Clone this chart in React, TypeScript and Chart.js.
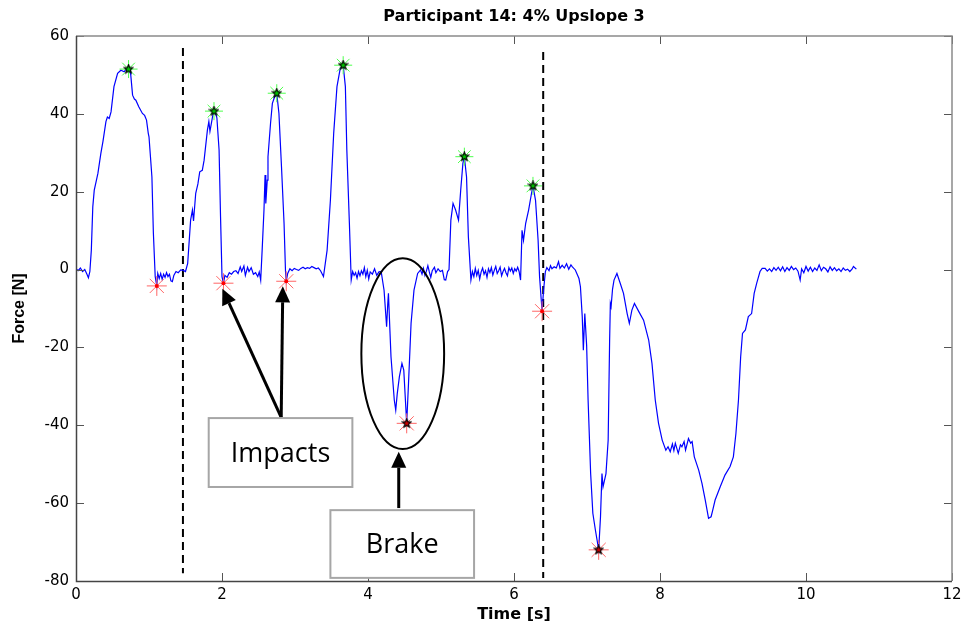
import React, { useEffect, useRef } from "react";
import { Chart, registerables } from "chart.js";

Chart.register(...registerables);

const chartTitle = "Participant 14: 4% Upslope 3";
const xAxisTitle = "Time [s]";
const yAxisTitle = "Force [N]";
const xTickValues = [0, 2, 4, 6, 8, 10, 12];
const yTickValues = [-80, -60, -40, -20, 0, 20, 40, 60];

// [time s, force N]
const traceFirstSteps: number[][] = [
  [0, 0.2], [0.03, -0.3], [0.06, 0.4], [0.09, -0.5], [0.12, 0], [0.15, -1.2], [0.17, -2.1], [0.19, -0.5],
  [0.21, 5], [0.23, 16.1], [0.25, 20.4], [0.28, 23], [0.3, 24.7], [0.34, 29.8], [0.37, 33], [0.41, 38],
  [0.43, 39.2], [0.455, 38.8], [0.48, 40.5], [0.52, 47], [0.57, 50.4], [0.615, 51.2], [0.66, 50.8],
  [0.69, 51.6], [0.72, 51.5], [0.74, 50.8], [0.75, 50], [0.775, 44.8], [0.8, 43.8], [0.82, 43.5],
  [0.86, 41.8], [0.91, 40.1], [0.94, 39.6], [0.966, 38.4], [0.99, 35], [1.0, 34.1], [1.02, 29],
  [1.04, 23.8], [1.06, 9.4], [1.085, -1.8], [1.107, -4.2], [1.12, -1], [1.14, -2.3], [1.16, -1],
  [1.18, -2.5], [1.2, -1.2], [1.22, -2], [1.24, -0.8], [1.26, -1.8], [1.28, -1.2], [1.3, -2.9],
  [1.32, -3.1], [1.34, -1.5], [1.37, -0.5], [1.4, -0.8], [1.435, -0.1], [1.47, -0.2], [1.5, -0.5],
];

const traceMiddleSteps: number[][] = [
  [1.53, 1.6], [1.57, 12.7], [1.595, 15.3], [1.61, 12.5], [1.64, 19.6], [1.67, 22], [1.695, 25.1],
  [1.73, 25.5], [1.755, 28.1], [1.8, 35.8], [1.82, 38], [1.835, 35.5], [1.87, 39.2], [1.89, 40.7],
  [1.91, 40.2], [1.93, 39], [1.96, 30.7], [1.98, 13.6], [2.0, -1.8], [2.02, -3.5], [2.04, -1.5],
  [2.07, -2], [2.1, -0.8], [2.13, -1.2], [2.16, -0.5], [2.19, -0.3], [2.22, -1], [2.25, 0.7],
  [2.27, -0.5], [2.3, 0.9], [2.32, -1.5], [2.35, 0.6], [2.37, -0.5], [2.4, 0.5], [2.43, -1.2],
  [2.46, -0.8], [2.49, -1.8], [2.51, -0.6], [2.53, -2.7], [2.55, 5], [2.575, 15.3], [2.59, 24.3],
  [2.6, 17], [2.62, 23], [2.63, 29], [2.665, 37.6], [2.69, 42.7], [2.72, 44.3], [2.75, 45.3],
  [2.78, 40.1], [2.815, 26.4], [2.85, 11.9], [2.87, -0.5], [2.88, -3], [2.9, -1], [2.93, 0.2],
  [2.96, -0.3], [2.99, 0.3], [3.02, 0], [3.05, -0.2], [3.08, 0.3], [3.11, 0.6], [3.14, 0.2],
  [3.17, 0.5], [3.2, 0.3], [3.23, 0.8], [3.26, 0.5], [3.29, 0.2], [3.32, 0.4], [3.35, -0.3],
  [3.39, -1.8], [3.44, 5], [3.485, 17.8], [3.53, 35], [3.575, 47], [3.62, 51.7], [3.66, 52.5],
  [3.69, 47], [3.71, 30.7], [3.745, 11.9], [3.77, -2.7],
];

const traceBrakeSteps: number[][] = [
  [3.79, -0.5], [3.81, -1.5], [3.83, -0.8], [3.85, -2.2], [3.87, -0.5], [3.89, -1.6], [3.91, -0.3],
  [3.93, -1.2], [3.95, 0.5], [3.97, -1.8], [3.99, -0.2], [4.01, -2.4], [4.03, -0.6], [4.06, -1.2],
  [4.09, 0.2], [4.12, -1.5], [4.15, -0.6], [4.18, -0.5], [4.22, -5.3], [4.255, -14.7], [4.27, -9],
  [4.28, -6.1], [4.3, -15.5], [4.315, -22.4], [4.36, -33.5], [4.38, -36.1], [4.4, -32], [4.43, -27.5],
  [4.465, -24.1], [4.49, -25.8], [4.52, -36.1], [4.53, -39.5], [4.555, -29.2], [4.59, -13.8],
  [4.63, -5.3], [4.68, -1], [4.72, -0.1], [4.74, -1.2], [4.76, 0.3], [4.78, -1.5], [4.8, -0.4],
  [4.82, 1], [4.84, -0.6], [4.86, -2], [4.88, -0.3], [4.91, 0.6], [4.93, -0.8], [4.96, 0.2],
  [4.99, -0.5], [5.02, -0.2], [5.045, -2.6], [5.065, -2.7], [5.09, -0.5], [5.11, 0], [5.135, 12.7],
  [5.165, 17], [5.2, 15.3], [5.24, 12.7], [5.27, 20.4], [5.3, 27.3], [5.32, 29], [5.35, 23.8],
  [5.375, 8.4], [5.41, -2.7], [5.43, -0.5], [5.45, -1.8], [5.47, 0.3], [5.49, -1.5], [5.51, -0.2],
  [5.53, -2.4], [5.55, -0.6], [5.57, 0.4], [5.59, -1.2], [5.61, -0.3], [5.63, -2], [5.65, 0.2],
  [5.67, -0.8], [5.69, 0.5], [5.71, -1.4], [5.73, -0.2], [5.75, 0.8], [5.77, -1], [5.79, -0.3],
  [5.81, 0.6], [5.83, -1.6], [5.85, -0.5], [5.87, 0.3], [5.89, -0.8], [5.91, -1.6], [5.93, 0.5],
  [5.95, -0.4], [5.97, 0.4], [5.99, -1], [6.01, 0.2], [6.03, -0.4], [6.05, 0.6], [6.07, -0.5],
  [6.09, -2.7], [6.11, 10.1], [6.13, 7.5], [6.16, 11.9], [6.2, 15.3], [6.24, 19.6], [6.26, 21.5],
  [6.295, 17.8], [6.33, 7.6], [6.35, -1.8], [6.37, -7], [6.385, -10.7], [6.405, -5.3], [6.43, -0.5],
  [6.45, 0.5], [6.48, -0.3], [6.5, 1], [6.52, 0.2], [6.55, 0.7], [6.58, 0.4], [6.61, 2], [6.63, 0.3],
  [6.66, 1.1], [6.69, 0.4], [6.72, 1.5], [6.75, 0.1], [6.78, 1.2], [6.8, 0.7], [6.84, -0.1], [6.89, -2.3],
];

const traceDescent: number[][] = [
  [6.91, -4.4], [6.935, -12.1], [6.95, -20.7], [6.97, -11.3], [6.995, -19.5], [7.015, -33.5],
  [7.05, -52.4], [7.08, -62.6], [7.115, -66.9], [7.16, -72], [7.185, -63.5], [7.205, -52.4],
  [7.22, -55.8], [7.26, -52.4], [7.29, -43.8], [7.31, -18.1], [7.32, -8.7], [7.33, -9.5], [7.35, -5],
  [7.37, -2.7], [7.41, -1], [7.455, -3.5], [7.5, -6.1], [7.55, -11.3], [7.58, -13.8], [7.615, -10.4],
  [7.65, -8.7], [7.71, -10.8], [7.775, -13], [7.845, -18.1], [7.89, -24.1], [7.935, -33.5],
  [7.98, -39.5], [8.03, -43.8], [8.08, -46.4], [8.11, -45.5], [8.14, -46.8], [8.17, -44.8],
  [8.19, -46.5], [8.21, -44.6], [8.25, -47.2], [8.28, -45], [8.3, -45.5], [8.33, -44.2],
  [8.35, -46.4], [8.39, -43.4], [8.42, -44.6], [8.44, -44.2], [8.47, -48.1], [8.53, -51.5],
  [8.575, -54.9], [8.62, -59.2], [8.665, -63.9], [8.7, -63.5], [8.72, -62], [8.755, -59.2],
  [8.825, -55.8], [8.89, -52.8], [8.96, -50.6], [9.005, -48.1], [9.04, -42.1], [9.075, -33.5],
  [9.105, -22.4], [9.13, -16.4], [9.17, -15.5], [9.21, -12.1], [9.255, -11.3], [9.29, -6.1],
  [9.325, -3.5], [9.37, -0.5], [9.4, 0.3], [9.44, 0.3], [9.47, -0.4], [9.5, 0.2], [9.53, -0.5],
  [9.56, 0.5], [9.59, -0.2], [9.62, 0.6], [9.65, -0.3], [9.68, 0.7], [9.71, -0.5], [9.74, 0.5],
  [9.77, -0.2], [9.8, 0.8], [9.83, 0], [9.86, 0.4], [9.89, -0.4], [9.92, -2.7], [9.94, 0.2],
  [9.97, -0.8], [10.0, 0.8], [10.03, -0.4], [10.06, 0.6], [10.09, -0.5], [10.12, 0.4], [10.15, -0.2],
  [10.18, 1.2], [10.21, -0.3], [10.24, 0.6], [10.27, 0.2], [10.3, -0.6], [10.33, 0.7], [10.36, -0.2],
  [10.39, 0.5], [10.42, -0.3], [10.45, 0.2], [10.48, -0.5], [10.51, 0.4], [10.54, -0.2], [10.57, 0.1],
  [10.6, -0.5], [10.63, 0.1], [10.65, 0.8], [10.69, 0.1],
];

const peakMarkers: number[][] = [
  [0.72, 51.5], [1.89, 40.7], [2.75, 45.3], [3.66, 52.5], [5.32, 29], [6.26, 21.5],
];
const impactMarkers: number[][] = [[1.107, -4.2], [2.02, -3.5], [2.88, -3], [6.385, -10.7]];
const brakeMarkers: number[][] = [[4.53, -39.5], [7.16, -72]];

// vertical phase boundaries: [time, top force, bottom force]
const boundaryLines: number[][] = [
  [1.465, 56.9, -78],
  [6.4, 55.9, -79.2],
];

// annotation boxes: [tLeft, tRight, fTop, fBottom]
const annotationLabels = ["Impacts", "Brake"];
const annotationBoxes: number[][] = [
  [1.818, 3.786, -38.15, -55.85],
  [3.485, 5.453, -61.8, -79.2],
];
// arrows: [tailT, tailF, tipT, tipF]
const annotationArrows: number[][] = [
  [2.811, -37.97, 2.005, -4.9],
  [2.811, -37.97, 2.833, -4.3],
  [4.421, -61.26, 4.421, -46.8],
];
// ellipse: [centerT, centerF, radiusT, radiusF]
const brakeEllipse = [4.476, -21.6, 0.567, 24.5];

const toPts = (arr: number[][]) => arr.map(([x, y]) => ({ x, y }));

function makeStarImage(fill: string, size: number) {
  const c = document.createElement("canvas");
  c.width = size;
  c.height = size;
  const g = c.getContext("2d")!;
  const cx = size / 2;
  const cy = size / 2;
  const R = size / 2 - 1;
  const r = R * 0.45;
  g.beginPath();
  for (let i = 0; i < 10; i++) {
    const ang = -Math.PI / 2 + (i * Math.PI) / 5;
    const rad = i % 2 === 0 ? R : r;
    const px = cx + rad * Math.cos(ang);
    const py = cy + rad * Math.sin(ang);
    if (i === 0) g.moveTo(px, py);
    else g.lineTo(px, py);
  }
  g.closePath();
  g.fillStyle = fill;
  g.fill();
  g.strokeStyle = "#000";
  g.lineWidth = 1.2;
  g.stroke();
  return c;
}

const matlabAxesPlugin = {
  id: "matlabAxes",
  afterDatasetsDraw(chart: any) {
    const { ctx, chartArea: a, scales } = chart;
    const xs = scales.x;
    const ys = scales.y;
    ctx.save();
    ctx.strokeStyle = "#555";
    ctx.lineWidth = 1;
    const tl = 8;
    xTickValues.forEach((v) => {
      const px = Math.round(xs.getPixelForValue(v)) + 0.5;
      ctx.beginPath();
      ctx.moveTo(px, a.bottom);
      ctx.lineTo(px, a.bottom - tl);
      ctx.moveTo(px, a.top);
      ctx.lineTo(px, a.top + tl);
      ctx.stroke();
    });
    yTickValues.forEach((v) => {
      const py = Math.round(ys.getPixelForValue(v)) + 0.5;
      ctx.beginPath();
      ctx.moveTo(a.left, py);
      ctx.lineTo(a.left + tl, py);
      ctx.moveTo(a.right, py);
      ctx.lineTo(a.right - tl, py);
      ctx.stroke();
    });
    ctx.lineWidth = 1.5;
    ctx.strokeStyle = "#8a8a8a";
    ctx.beginPath();
    ctx.moveTo(a.left, a.top);
    ctx.lineTo(a.right, a.top);
    ctx.lineTo(a.right, a.bottom);
    ctx.stroke();
    ctx.strokeStyle = "#444";
    ctx.beginPath();
    ctx.moveTo(a.left + 0.5, a.top);
    ctx.lineTo(a.left + 0.5, a.bottom + 0.5);
    ctx.lineTo(a.right, a.bottom + 0.5);
    ctx.stroke();
    ctx.restore();
  },
};

const annotationPlugin = {
  id: "calloutAnnotations",
  afterDraw(chart: any) {
    const { ctx, scales } = chart;
    const X = (v: number) => scales.x.getPixelForValue(v);
    const Y = (v: number) => scales.y.getPixelForValue(v);
    ctx.save();
    const [ecx, ecy, ert, erf] = brakeEllipse;
    ctx.strokeStyle = "#000";
    ctx.lineWidth = 2;
    ctx.beginPath();
    ctx.ellipse(X(ecx), Y(ecy), Math.abs(X(ecx + ert) - X(ecx)), Math.abs(Y(ecy + erf) - Y(ecy)), 0, 0, Math.PI * 2);
    ctx.stroke();
    annotationArrows.forEach(([t0, f0, t1, f1]) => {
      const x0 = X(t0), y0 = Y(f0), x1 = X(t1), y1 = Y(f1);
      const ang = Math.atan2(y1 - y0, x1 - x0);
      const headLen = 16;
      const headHalf = 7.5;
      const bx = x1 - headLen * Math.cos(ang);
      const by = y1 - headLen * Math.sin(ang);
      ctx.strokeStyle = "#000";
      ctx.lineWidth = 3;
      ctx.beginPath();
      ctx.moveTo(x0, y0);
      ctx.lineTo(bx, by);
      ctx.stroke();
      ctx.fillStyle = "#000";
      ctx.beginPath();
      ctx.moveTo(x1, y1);
      ctx.lineTo(bx + headHalf * Math.sin(ang), by - headHalf * Math.cos(ang));
      ctx.lineTo(bx - headHalf * Math.sin(ang), by + headHalf * Math.cos(ang));
      ctx.closePath();
      ctx.fill();
    });
    annotationBoxes.forEach(([tl, tr, ft, fb], i) => {
      const x0 = X(tl), x1 = X(tr), y0 = Y(ft), y1 = Y(fb);
      ctx.fillStyle = "#fff";
      ctx.fillRect(x0, y0, x1 - x0, y1 - y0);
      ctx.strokeStyle = "#a6a6a6";
      ctx.lineWidth = 2;
      ctx.strokeRect(x0, y0, x1 - x0, y1 - y0);
      ctx.fillStyle = "#000";
      ctx.font = "27px 'Open Sans', 'Liberation Sans', sans-serif";
      ctx.textAlign = "center";
      ctx.textBaseline = "alphabetic";
      ctx.fillText(annotationLabels[i], (x0 + x1) / 2, (y0 + y1) / 2 + 9);
    });
    ctx.restore();
  },
};

export default function App() {
  const ref = useRef<HTMLCanvasElement | null>(null);
  useEffect(() => {
    if (!ref.current) return;
    const greenStar = makeStarImage("#00c800", 11);
    const darkStar = makeStarImage("#cc0000", 11);
    const tickFont = { family: "'DejaVu Sans', sans-serif", size: 15 };
    const hTitleFont = { family: "'DejaVu Sans', sans-serif", size: 16, weight: "bold" as const };
    const vTitleFont = { family: "'Liberation Sans', Arial, sans-serif", size: 16, weight: "bold" as const };
    const fullTrace = [...traceFirstSteps, ...traceMiddleSteps, ...traceBrakeSteps, ...traceDescent];
    const boundaryDatasets = boundaryLines.map(([t, top, bottom]) => ({
      data: [{ x: t, y: top }, { x: t, y: bottom }],
      showLine: true,
      borderColor: "#000",
      borderWidth: 2,
      borderDash: [8, 5],
      pointRadius: 0,
      order: 5,
    }));
    const chart = new Chart(ref.current, {
      type: "scatter",
      data: {
        datasets: [
          { data: toPts(peakMarkers), pointStyle: greenStar as any, pointRadius: 5, order: 0 },
          {
            data: toPts(peakMarkers),
            pointStyle: "star",
            pointRadius: 9,
            borderColor: "#4dff4d",
            borderWidth: 1,
            order: 1,
          },
          { data: toPts(brakeMarkers), pointStyle: darkStar as any, pointRadius: 5, order: 0 },
          {
            data: toPts(impactMarkers),
            pointStyle: "circle",
            pointRadius: 2,
            backgroundColor: "#ff0000",
            borderColor: "#ff0000",
            borderWidth: 0,
            order: 0,
          },
          {
            data: toPts([...impactMarkers, ...brakeMarkers]),
            pointStyle: "star",
            pointRadius: 10,
            borderColor: "#ff6666",
            borderWidth: 1,
            order: 1,
          },
          {
            data: toPts(fullTrace),
            showLine: true,
            borderColor: "#0000ff",
            borderWidth: 1.2,
            pointRadius: 0,
            order: 3,
          },
          ...boundaryDatasets,
        ] as any,
      },
      options: {
        animation: false,
        responsive: false,
        events: [],
        layout: { padding: { left: 0, right: 9, top: 0, bottom: 0 } },
        plugins: {
          legend: { display: false },
          tooltip: { enabled: false },
          title: {
            display: true,
            fullSize: false,
            text: chartTitle,
            color: "#000",
            font: hTitleFont,
            padding: { top: 7.4, bottom: 9.4 },
          },
        },
        scales: {
          x: {
            type: "linear",
            min: 0,
            max: 12,
            afterBuildTicks: (s: any) => {
              s.ticks = xTickValues.map((v) => ({ value: v }));
            },
            afterFit: (s: any) => {
              s.height = 45;
              s.paddingRight = 0;
              s.paddingLeft = 0;
            },
            grid: { display: false, drawTicks: false },
            border: { display: false },
            ticks: { color: "#000", font: tickFont, padding: 5, maxRotation: 0 },
            title: { display: true, text: xAxisTitle, color: "#000", font: hTitleFont, padding: { top: 0, bottom: 1.4 } },
          },
          y: {
            type: "linear",
            min: -80,
            max: 60,
            afterBuildTicks: (s: any) => {
              s.ticks = yTickValues.map((v) => ({ value: v }));
            },
            afterFit: (s: any) => {
              s.width = 76;
            },
            grid: { display: false, drawTicks: false },
            border: { display: false },
            ticks: { color: "#000", font: tickFont, padding: 7 },
            title: { display: true, text: yAxisTitle, color: "#000", font: vTitleFont, padding: { top: 10.4, bottom: 0 } },
          },
        },
      },
      plugins: [matlabAxesPlugin, annotationPlugin],
    });
    return () => chart.destroy();
  }, []);
  return (
    <div style={{ position: "absolute", left: 0, top: 0, width: 963, height: 626, background: "#fff" }}>
      <canvas ref={ref} width={963} height={626} style={{ display: "block" }} />
    </div>
  );
}
